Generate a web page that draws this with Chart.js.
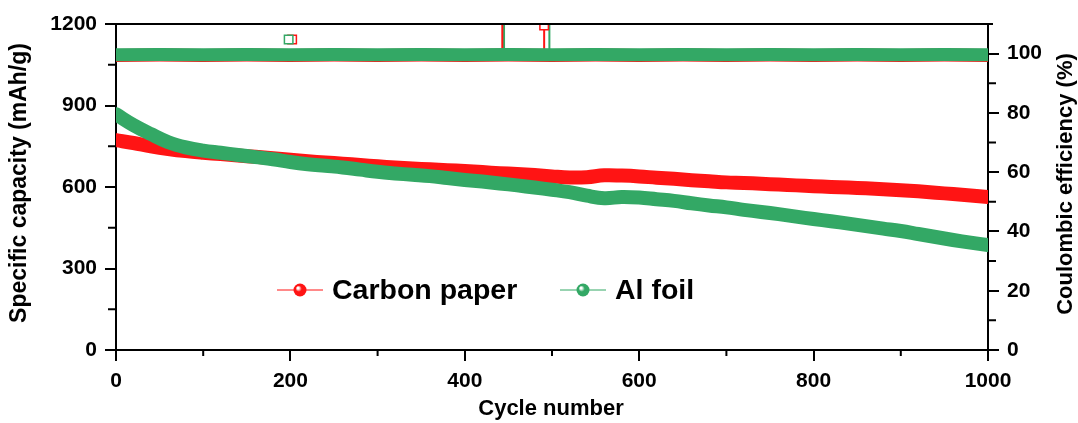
<!DOCTYPE html>
<html>
<head>
<meta charset="utf-8">
<script src="https://cdn.jsdelivr.net/npm/chart.js@4.4.1/dist/chart.umd.min.js"></script>
<style>
  html, body { margin: 0; padding: 0; background: #fff; }
  #box { width: 1078px; height: 423px; }
</style>
</head>
<body>
<div id="box"><canvas id="c"></canvas></div>
<script>
const RED = "#ff1414";
const GREEN = "#33a865";
const FONT = "'Liberation Sans', Arial, sans-serif";

// cycle number for the capacity curves
const cycles = [0, 20, 40, 60, 80, 100, 120, 140, 160, 180, 200, 220, 240, 260, 280, 300,
  320, 340, 360, 380, 400, 420, 440, 460, 480, 500, 520, 540, 560, 580, 600, 620, 640,
  660, 680, 700, 720, 740, 760, 780, 800, 820, 840, 860, 880, 900, 920, 940, 960, 980, 1000];

// specific capacity, mAh/g
const capCarbon = [772, 762, 750, 740, 732, 726, 721, 716, 711, 706, 700, 695, 690, 686, 681, 676,
  672, 668, 665, 662, 659, 655, 651, 648, 644, 639, 635, 636, 643, 642, 639, 634, 630,
  625, 621, 617, 615, 612, 609, 606, 603, 600, 598, 595, 592, 588, 584, 579, 574, 569, 563];
const capAl = [868, 828, 795, 765, 746, 734, 726, 718, 710, 702, 692, 684, 678, 672, 664, 656,
  650, 645, 640, 633, 626, 620, 613, 606, 598, 590, 581, 568, 559, 563, 561, 555, 549,
  540, 532, 525, 516, 508, 500, 491, 482, 474, 465, 456, 447, 438, 427, 416, 405, 395, 386];

// coulombic efficiency, %
const ceCycles = [0, 50, 100, 150, 200, 250, 300, 350, 400, 450, 500, 550, 600, 650, 700,
  750, 800, 850, 900, 950, 1000];
const ceCarbon = [99.4, 99.5, 99.4, 99.5, 99.4, 99.5, 99.4, 99.5, 99.4, 99.5, 99.4, 99.5, 99.4,
  99.5, 99.4, 99.5, 99.4, 99.5, 99.4, 99.5, 99.4];
const ceAl = [99.6, 99.7, 99.6, 99.7, 99.6, 99.7, 99.6, 99.7, 99.6, 99.7, 99.6, 99.7, 99.6,
  99.7, 99.6, 99.7, 99.6, 99.7, 99.6, 99.7, 99.6];

// outlier points (cycle, %)
const ceCarbonSpikeX = [443, 491];
const ceCarbonSpikeY = [125, 109.5];
const ceAlSpikeX = [445, 497];
const ceAlSpikeY = [125, 125];
const ceCarbonOpenX = [202, 491, 996];
const ceCarbonOpenY = [104.8, 109.5, 99.4];
const ceAlOpenX = [198, 996];
const ceAlOpenY = [104.8, 99.6];

const xTicks = [0, 200, 400, 600, 800, 1000];
const xMinor = [100, 300, 500, 700, 900];
const yMinor = [150, 450, 750, 1050];
const y1Minor = [10, 30, 50, 70, 90];

const pts = (xs, ys) => xs.map((x, i) => ({ x, y: ys[i] }));

function spikeSets(xs, ys, base, color) {
  return xs.map((x, i) => ({
    data: [{ x, y: base }, { x, y: ys[i] }],
    yAxisID: "y1",
    borderColor: color,
    borderWidth: 2,
    pointRadius: 0,
    showLine: true,
    order: 3
  }));
}

const decor = {
  id: "decor",
  afterDraw(chart) {
    const { ctx, chartArea: a, scales } = chart;
    ctx.save();
    ctx.strokeStyle = "#000";
    ctx.lineWidth = 2;
    // frame top
    ctx.beginPath();
    ctx.moveTo(a.left - 11, a.top);
    ctx.lineTo(a.right + 5, a.top);
    ctx.stroke();
    // minor ticks
    ctx.beginPath();
    xMinor.forEach(v => {
      const x = scales.x.getPixelForValue(v);
      ctx.moveTo(x, a.bottom); ctx.lineTo(x, a.bottom + 6);
    });
    yMinor.forEach(v => {
      const y = scales.y.getPixelForValue(v);
      ctx.moveTo(a.left, y); ctx.lineTo(a.left - 8, y);
    });
    y1Minor.forEach(v => {
      const y = scales.y1.getPixelForValue(v);
      ctx.moveTo(a.right, y); ctx.lineTo(a.right + 8, y);
    });
    ctx.stroke();

    // axis titles
    ctx.fillStyle = "#000";
    ctx.textAlign = "center";
    ctx.textBaseline = "middle";
    ctx.font = "bold 22px " + FONT;
    ctx.fillText("Cycle number", (a.left + a.right) / 2 - 1, 409);
    ctx.save();
    ctx.translate(20, 183);
    ctx.rotate(-Math.PI / 2);
    ctx.font = "bold 23px " + FONT;
    ctx.fillText("Specific capacity (mAh/g)", 0, 0);
    ctx.restore();
    ctx.save();
    ctx.translate(1066, 184);
    ctx.rotate(-Math.PI / 2);
    ctx.font = "bold 22px " + FONT;
    ctx.fillText("Coulombic efficiency (%)", 0, 0);
    ctx.restore();

    // legend
    const items = [
      { label: "Carbon paper", color: RED, x: 277 },
      { label: "Al foil", color: GREEN, x: 560 }
    ];
    const ly = 290;
    items.forEach(it => {
      ctx.strokeStyle = it.color;
      ctx.lineWidth = 1;
      ctx.beginPath();
      ctx.moveTo(it.x, ly); ctx.lineTo(it.x + 46, ly);
      ctx.stroke();
      const cx = it.x + 23;
      const g = ctx.createRadialGradient(cx - 2, ly - 2, 1, cx, ly, 7);
      g.addColorStop(0, "#ffffff");
      g.addColorStop(0.35, it.color);
      g.addColorStop(1, it.color);
      ctx.fillStyle = g;
      ctx.beginPath();
      ctx.arc(cx, ly, 6.5, 0, Math.PI * 2);
      ctx.fill();
      ctx.fillStyle = "#000";
      ctx.textAlign = "left";
      ctx.font = "bold 28.5px " + FONT;
      ctx.fillText(it.label, it.x + 55, ly + 1);
    });
    ctx.restore();
  }
};

const tickFont = { family: FONT, size: 21, weight: "bold" };
const axisGrid = { drawOnChartArea: false, drawTicks: true, tickLength: 11, color: "#000", lineWidth: 2 };
const axisBorder = { display: true, color: "#000", width: 2 };
const plain = v => String(v);

new Chart(document.getElementById("c"), {
  type: "scatter",
  data: {
    datasets: [
      // capacity bands
      {
        label: "Al foil", data: pts(cycles, capAl), yAxisID: "y",
        borderColor: GREEN, borderWidth: 14, showLine: true, tension: 0.4,
        pointRadius: 0, borderCapStyle: "round", order: 1
      },
      {
        label: "Carbon paper", data: pts(cycles, capCarbon), yAxisID: "y",
        borderColor: RED, borderWidth: 14, showLine: true, tension: 0.4,
        pointRadius: 0, borderCapStyle: "round", order: 2
      },
      // coulombic efficiency bands
      {
        label: "CE Al", data: pts(ceCycles, ceAl), yAxisID: "y1",
        borderColor: GREEN, borderWidth: 13, showLine: true, tension: 0,
        pointRadius: 0, order: 1
      },
      {
        label: "CE Carbon", data: pts(ceCycles, ceCarbon), yAxisID: "y1",
        borderColor: RED, borderWidth: 13, showLine: true, tension: 0,
        pointRadius: 0, order: 2
      },
      ...spikeSets(ceCarbonSpikeX, ceCarbonSpikeY, 99.4, RED),
      ...spikeSets(ceAlSpikeX, ceAlSpikeY, 99.6, GREEN),
      {
        label: "CE Carbon open", data: pts(ceCarbonOpenX, ceCarbonOpenY), yAxisID: "y1",
        pointStyle: "rect", pointRadius: 6, pointBorderWidth: 1.5,
        pointBorderColor: RED, pointBackgroundColor: "#fff", order: 2
      },
      {
        label: "CE Al open", data: pts(ceAlOpenX, ceAlOpenY), yAxisID: "y1",
        pointStyle: "rect", pointRadius: 6, pointBorderWidth: 1.5,
        pointBorderColor: GREEN, pointBackgroundColor: "#fff", order: 1
      }
    ]
  },
  options: {
    responsive: true,
    maintainAspectRatio: false,
    animation: false,
    layout: { padding: { top: 24, left: 0, right: 0, bottom: 0 } },
    plugins: { legend: { display: false }, tooltip: { enabled: false } },
    scales: {
      x: {
        type: "linear", min: 0, max: 1000,
        afterBuildTicks: s => { s.ticks = xTicks.map(v => ({ value: v })); },
        afterFit: s => { s.height = 73; },
        ticks: { color: "#000", font: tickFont, padding: 8, maxRotation: 0, callback: plain },
        grid: axisGrid, border: axisBorder
      },
      y: {
        position: "left", min: 0, max: 1200,
        afterFit: s => { s.width = 116; },
        ticks: { stepSize: 300, color: "#000", font: tickFont, padding: 8, callback: plain },
        grid: axisGrid, border: axisBorder
      },
      y1: {
        position: "right", min: 0, max: 110,
        afterFit: s => { s.width = 90; },
        ticks: { stepSize: 20, includeBounds: false, color: "#000", font: tickFont, padding: 8, callback: plain },
        grid: axisGrid, border: axisBorder
      }
    }
  },
  plugins: [decor]
});
</script>
</body>
</html>
